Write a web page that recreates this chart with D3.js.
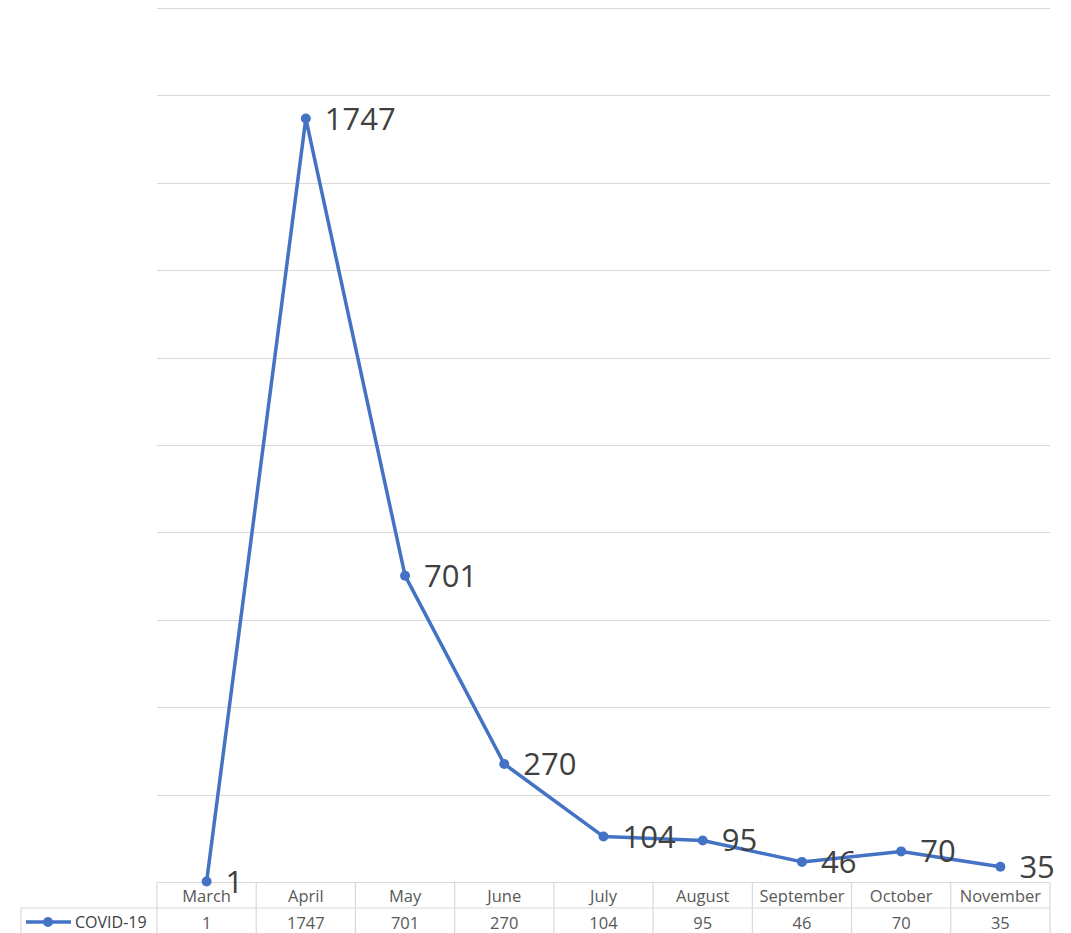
<!DOCTYPE html>
<html><head><meta charset="utf-8">
<script src="https://cdn.jsdelivr.net/npm/d3@7"></script>
<style>body{margin:0;background:#fff;}svg{display:block;}</style>
</head><body>
<svg id="c" width="1071" height="933"></svg>
<script>
const categories = ["March","April","May","June","July","August","September","October","November"];
const seriesName = "COVID-19";
const values = [1,1747,701,270,104,95,46,70,35];
const yTicks = [0,200,400,600,800,1000,1200,1400,1600,1800,2000];

(function(){
const svg = d3.select("#c");
const L = 157, R = 1050, T = 8, B = 882;
const x = d3.scaleBand().domain(categories).range([L, R]);
const y = d3.scaleLinear().domain([0, 2000]).range([B, T]);
const font = "'Open Sans', 'Liberation Sans', sans-serif";

// gridlines
svg.append("g").selectAll("line").data(yTicks).join("line")
  .attr("x1", L).attr("x2", R)
  .attr("y1", d => Math.round(y(d)) + 0.5).attr("y2", d => Math.round(y(d)) + 0.5)
  .attr("stroke", "#d9d9d9").attr("stroke-width", 1);

// data table
const rowH = 26;
const tbl = svg.append("g").attr("stroke", "#d9d9d9").attr("stroke-width", 1.2).attr("fill", "none");
tbl.append("line").attr("x1", L).attr("x2", R).attr("y1", B + rowH).attr("y2", B + rowH);
tbl.append("line").attr("x1", 21).attr("x2", L).attr("y1", B + rowH).attr("y2", B + rowH);
tbl.append("line").attr("x1", 21).attr("x2", 21).attr("y1", B + rowH).attr("y2", B + 2 * rowH);
const bounds = categories.map(c => x(c)).concat([R]);
tbl.selectAll("line.v").data(bounds).join("line").attr("class", "v")
  .attr("x1", d => d).attr("x2", d => d).attr("y1", B).attr("y2", B + 2 * rowH);

svg.append("g").selectAll("text").data(categories).join("text")
  .attr("x", d => x(d) + x.bandwidth() / 2).attr("y", B + 20)
  .attr("text-anchor", "middle").attr("font-family", font).attr("font-size", 16.5)
  .attr("fill", "#595959").text(d => d);
svg.append("g").selectAll("text").data(values).join("text")
  .attr("x", (d, i) => x(categories[i]) + x.bandwidth() / 2).attr("y", B + rowH + 21)
  .attr("text-anchor", "middle").attr("font-family", font).attr("font-size", 16.5)
  .attr("fill", "#595959").text(d => d);

// legend key
const ly = B + rowH + 14;
svg.append("line").attr("x1", 26).attr("x2", 71).attr("y1", ly).attr("y2", ly)
  .attr("stroke", "#4472C4").attr("stroke-width", 3.5);
svg.append("circle").attr("cx", 48).attr("cy", ly).attr("r", 5).attr("fill", "#4472C4");
svg.append("text").attr("x", 75).attr("y", ly + 6).attr("font-family", font).attr("font-size", 16)
  .attr("fill", "#404040").text(seriesName);

// line
const pts = values.map((v, i) => [x(categories[i]) + x.bandwidth() / 2, y(v)]);
svg.append("path").attr("d", d3.line()(pts)).attr("fill", "none")
  .attr("stroke", "#4472C4").attr("stroke-width", 3.5).attr("stroke-linejoin", "round");
svg.append("g").selectAll("circle").data(pts).join("circle")
  .attr("cx", d => d[0]).attr("cy", d => d[1]).attr("r", 5).attr("fill", "#4472C4");

// data labels
svg.append("g").selectAll("text").data(values).join("text")
  .attr("x", (d, i) => pts[i][0] + 19).attr("y", (d, i) => pts[i][1] + 11)
  .attr("font-family", font).attr("font-size", 31).attr("fill", "#404040").text(d => d);
})();
</script>
</body></html>
